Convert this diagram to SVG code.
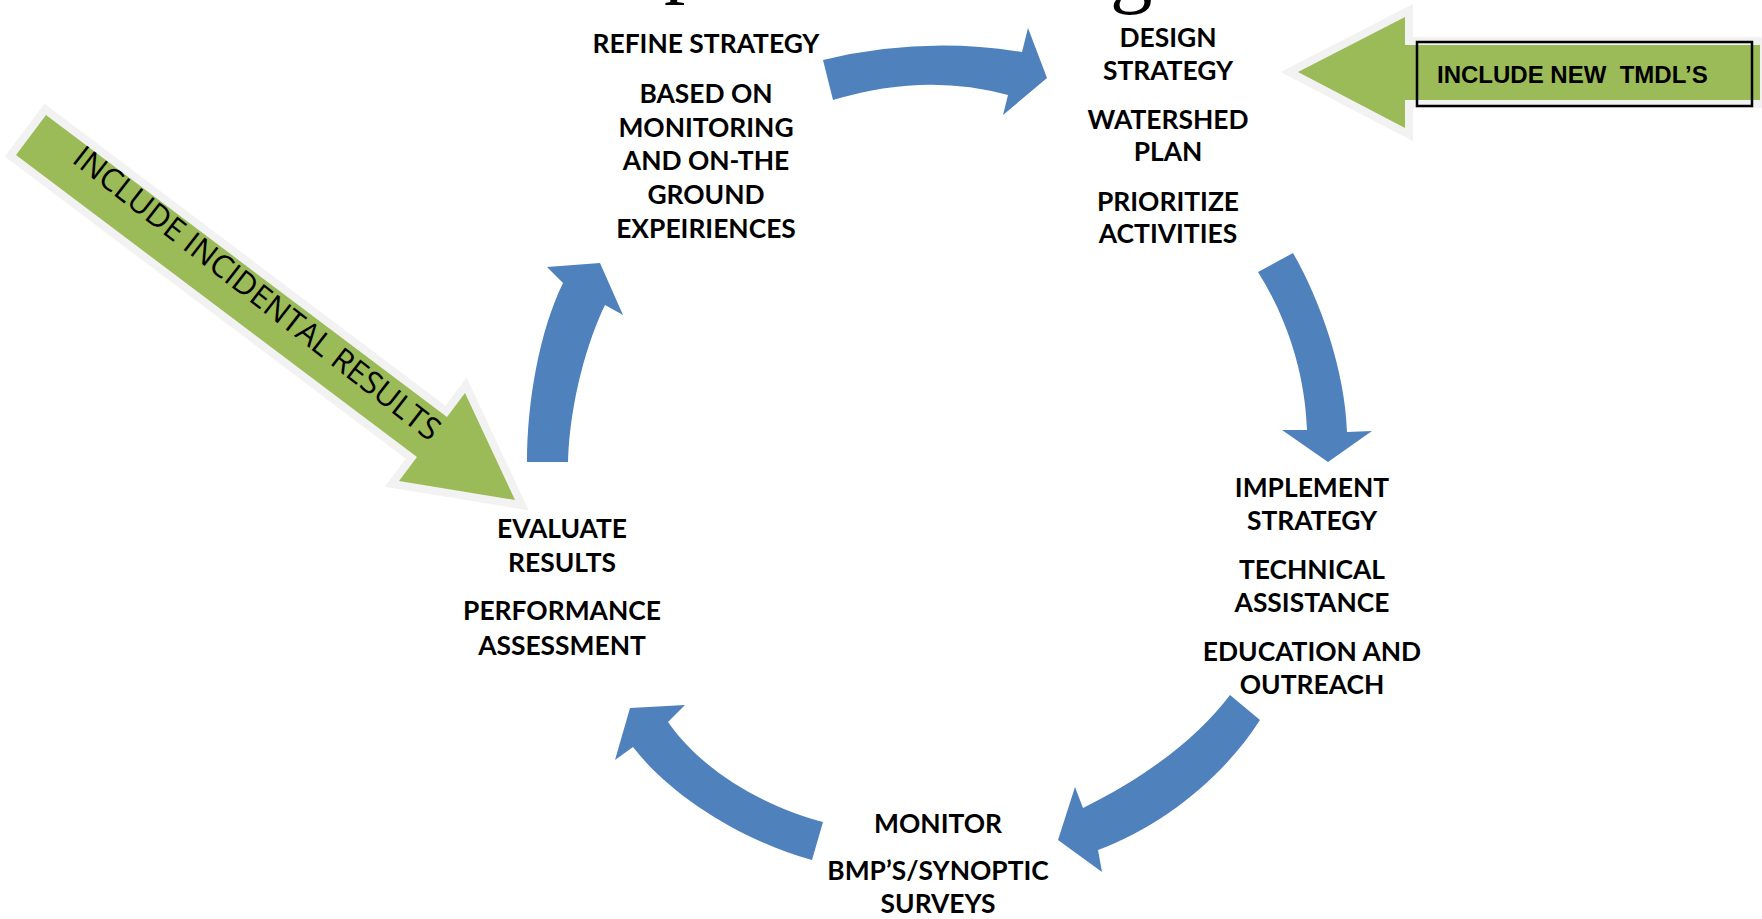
<svg xmlns="http://www.w3.org/2000/svg" width="1762" height="919" viewBox="0 0 1762 919">
  <style>
    .lbl { font-family: Lato, "Liberation Sans", sans-serif; font-weight: 700; font-size: 26.4px; fill: #000; text-anchor: middle; }
    .flow { fill: #4f81bd; }
    .gout { fill: #f2f2f2; stroke: #f2f2f2; stroke-width: 16; stroke-linejoin: miter; }
    .gin { fill: #9bbb59; }
    .title { font-family: "Liberation Serif", serif; font-size: 85px; fill: #000; }
  </style>
  <rect width="1762" height="919" fill="#fff"/>

  <g id="title-fragments">
    <text class="title" x="664" y="-13">p</text>
    <text class="title" x="1110" y="-3">g</text>
  </g>

  <g id="connectors">
    <path class="flow" d="M 823,60 Q 922,36 1022,52 L 1028,28 L 1047,78 L 1003,115 L 1008,95 Q 925,72 833,100 Z"/>
    <path class="flow" d="M 1293,253 C 1320,300 1345,370 1347,432 L 1372,431 L 1328,462 L 1282,430 L 1307,430 C 1305,370 1285,315 1258,272 Z"/>
    <path class="flow" d="M 1230,695 C 1200,735 1150,775 1083,808 L 1075,787 L 1058,840 L 1102,872 L 1098,850 C 1165,825 1225,775 1260,720 Z"/>
    <path class="flow" d="M 823,822 C 770,808 705,775 668,722 L 685,705 L 630,708 L 615,760 L 633,747 C 670,795 740,840 812,860 Z"/>
    <path class="flow" d="M 527,462 C 527,400 540,330 563,283 L 547,267 L 600,263 L 623,315 L 605,305 C 588,340 570,400 568,462 Z"/>
  </g>

  <g id="include-incidental-results">
    <polygon class="gout" points="46,115 447,417 465,393 515,500 399,481 417,457 16,155"/>
    <polygon class="gin" points="46,115 447,417 465,393 515,500 399,481 417,457 16,155"/>
    <text transform="translate(258,292) rotate(38)" font-family="'Open Sans', 'Noto Sans', sans-serif" font-size="31.5" text-anchor="middle" dominant-baseline="central" fill="#000">INCLUDE INCIDENTAL RESULTS</text>
  </g>

  <g id="include-new-tmdls">
    <polygon class="gout" points="1298,72 1405,17 1405,45 1760,45 1760,100 1405,100 1405,128"/>
    <polygon class="gin" points="1298,72 1405,17 1405,45 1760,45 1760,100 1405,100 1405,128"/>
    <rect x="1417" y="42" width="335" height="64" fill="none" stroke="#000" stroke-width="2.5"/>
    <text x="1437" y="83" font-family="'Liberation Sans', Arial, sans-serif" font-weight="700" font-size="24" fill="#000" xml:space="preserve">INCLUDE NEW  TMDL’S</text>
  </g>

  <g id="refine-strategy">
    <text class="lbl" x="706" y="53">REFINE STRATEGY</text>
    <text class="lbl" x="706" y="103">BASED ON</text>
    <text class="lbl" x="706" y="137">MONITORING</text>
    <text class="lbl" x="706" y="170">AND ON-THE</text>
    <text class="lbl" x="706" y="204">GROUND</text>
    <text class="lbl" x="706" y="238">EXPEIRIENCES</text>
  </g>

  <g id="design-strategy">
    <text class="lbl" x="1168" y="47">DESIGN</text>
    <text class="lbl" x="1168" y="80">STRATEGY</text>
    <text class="lbl" x="1168" y="129">WATERSHED</text>
    <text class="lbl" x="1168" y="161">PLAN</text>
    <text class="lbl" x="1168" y="211">PRIORITIZE</text>
    <text class="lbl" x="1168" y="243">ACTIVITIES</text>
  </g>

  <g id="implement-strategy">
    <text class="lbl" x="1312" y="497">IMPLEMENT</text>
    <text class="lbl" x="1312" y="530">STRATEGY</text>
    <text class="lbl" x="1312" y="579">TECHNICAL</text>
    <text class="lbl" x="1312" y="612">ASSISTANCE</text>
    <text class="lbl" x="1312" y="661">EDUCATION AND</text>
    <text class="lbl" x="1312" y="694">OUTREACH</text>
  </g>

  <g id="monitor">
    <text class="lbl" x="938" y="833">MONITOR</text>
    <text class="lbl" x="938" y="880">BMP’S/SYNOPTIC</text>
    <text class="lbl" x="938" y="913">SURVEYS</text>
  </g>

  <g id="evaluate-results">
    <text class="lbl" x="562" y="538">EVALUATE</text>
    <text class="lbl" x="562" y="572">RESULTS</text>
    <text class="lbl" x="562" y="620">PERFORMANCE</text>
    <text class="lbl" x="562" y="655">ASSESSMENT</text>
  </g>
</svg>
